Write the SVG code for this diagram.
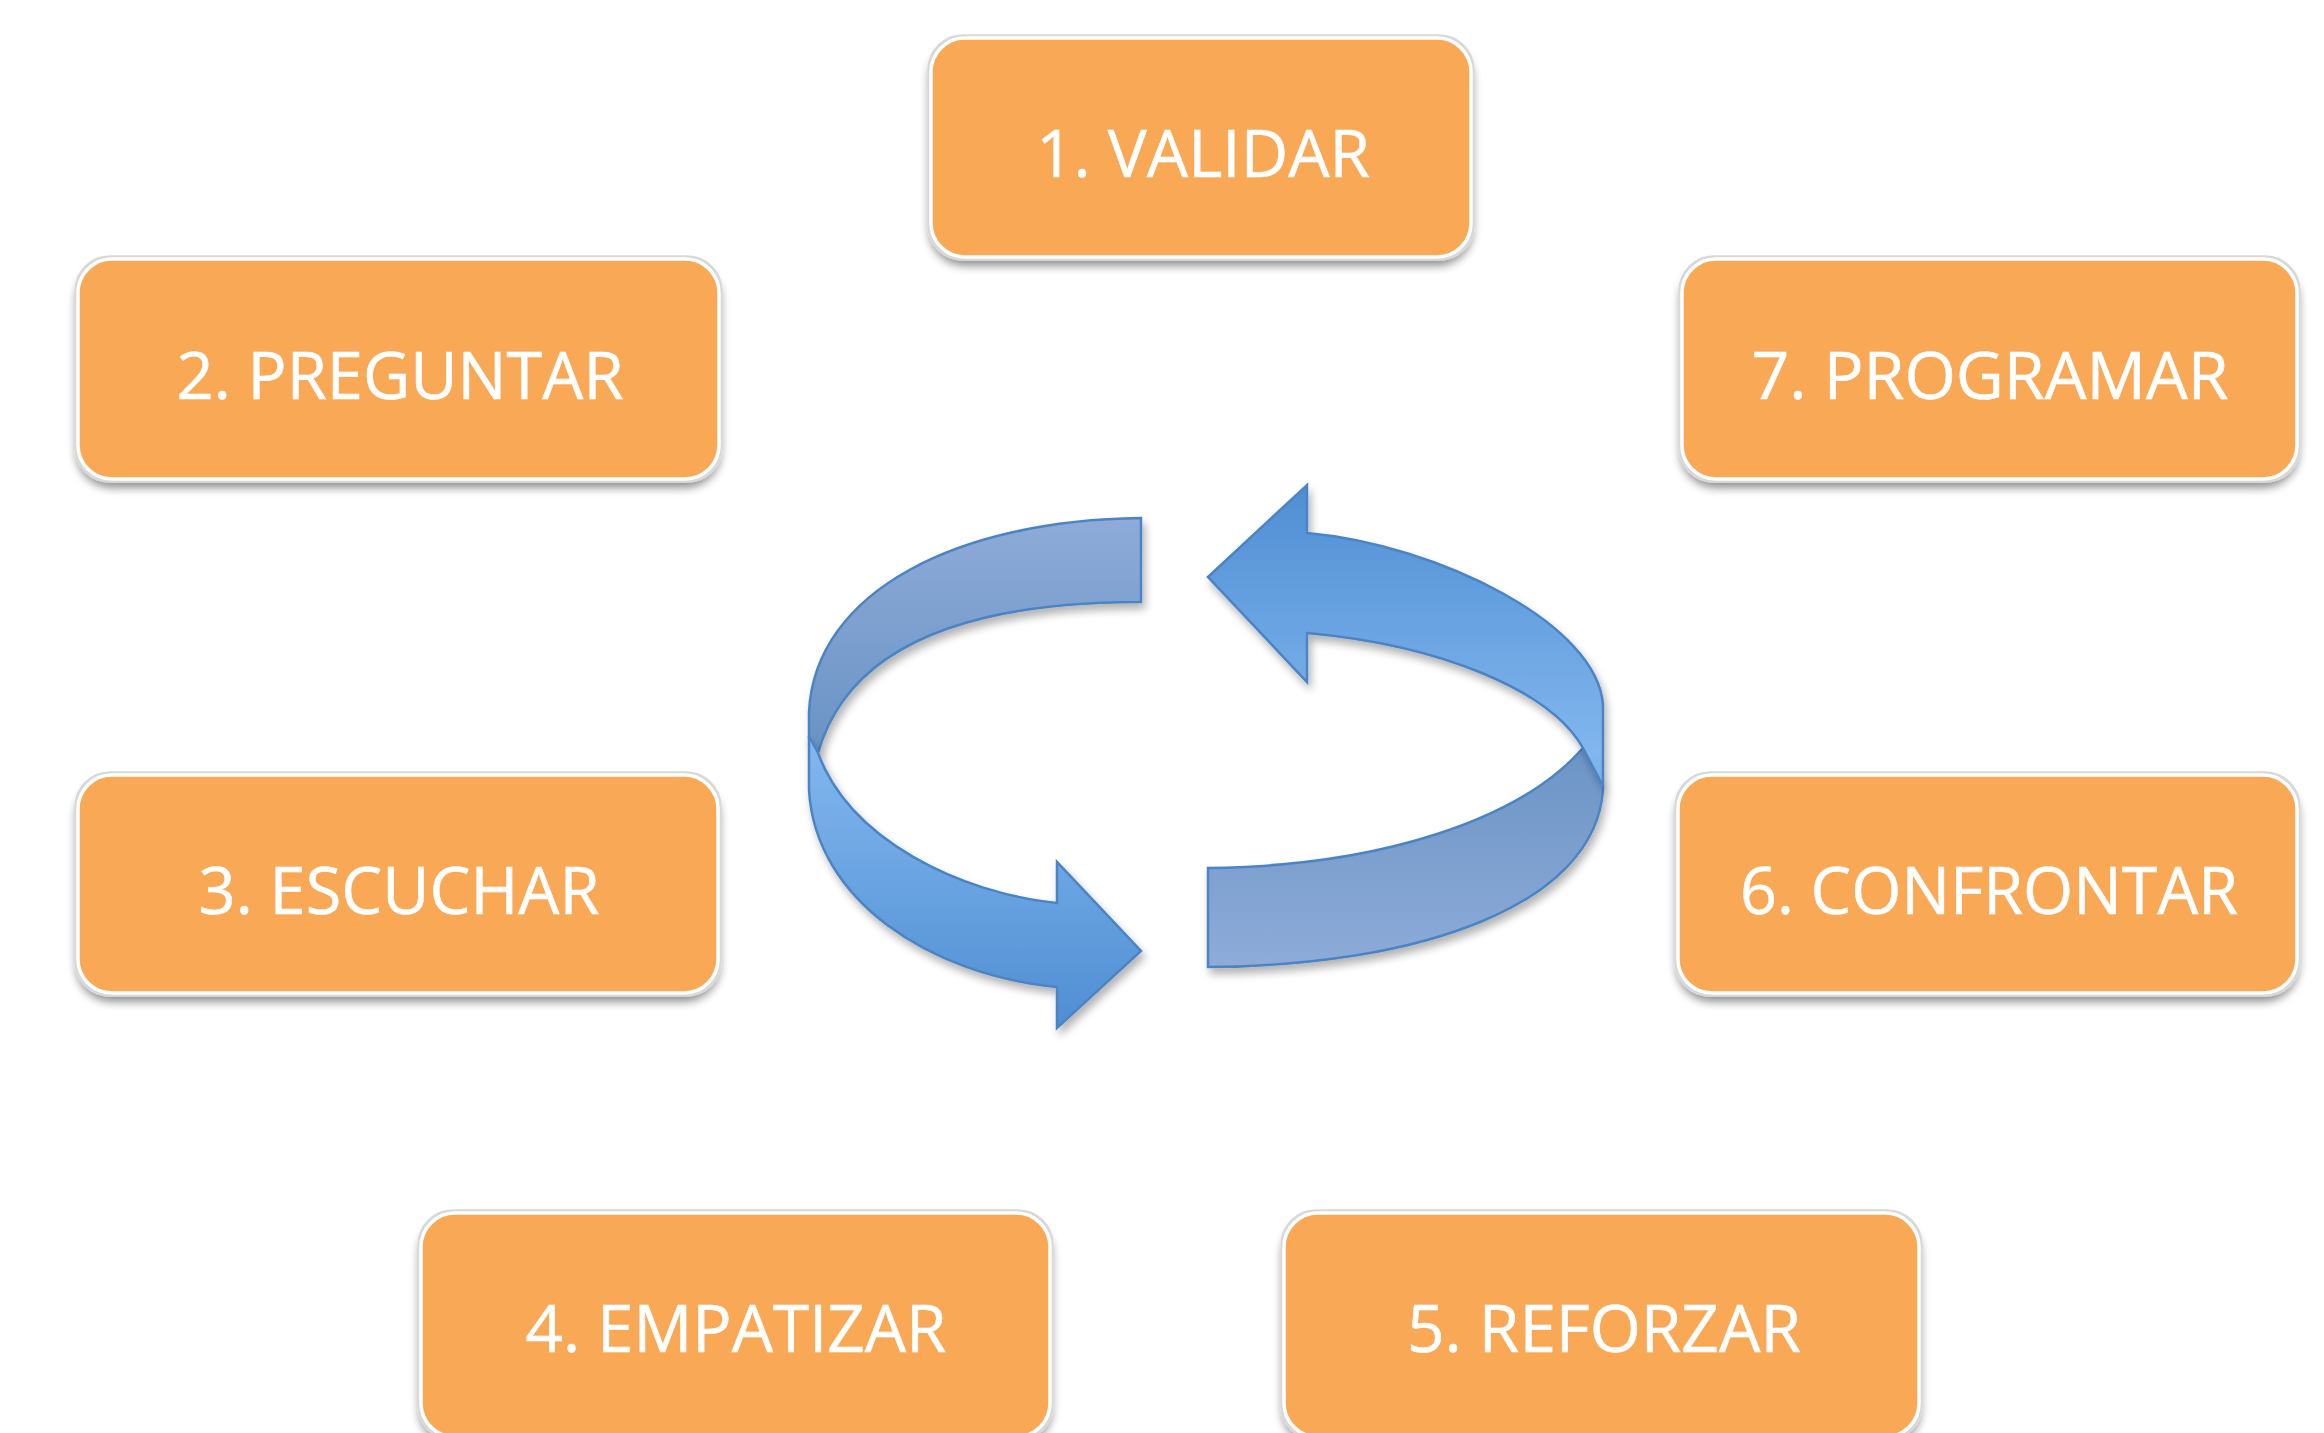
<svg xmlns="http://www.w3.org/2000/svg" width="2324" height="1433" viewBox="0 0 2324 1433">
<defs>
<style>
.box{fill:#f9a857;stroke:#ffffff;stroke-width:3.5;filter:url(#bsh)}
.lbl{font-family:"Open Sans","Liberation Sans",sans-serif;font-size:66px;fill:#ffffff;stroke:#ffffff;stroke-width:0.6;text-anchor:middle}
.front{fill:url(#gf);stroke:#4c84c4;stroke-width:2.5;stroke-linejoin:miter;filter:url(#ash)}
.back{fill:url(#gb);stroke:#4c84c4;stroke-width:2.5;stroke-linejoin:miter;filter:url(#ash)}
</style>
<filter id="bsh" x="-10%" y="-10%" width="120%" height="130%">
<feMorphology in="SourceAlpha" operator="dilate" radius="2" result="d"/>
<feFlood flood-color="#d8d8d8"/>
<feComposite in2="d" operator="in" result="ring"/>
<feGaussianBlur in="SourceAlpha" stdDeviation="5" result="b"/>
<feOffset in="b" dy="7" result="o"/>
<feComponentTransfer in="o" result="s"><feFuncA type="linear" slope="0.45"/></feComponentTransfer>
<feMerge><feMergeNode in="s"/><feMergeNode in="ring"/><feMergeNode in="SourceGraphic"/></feMerge>
</filter>
<filter id="ash" x="-10%" y="-10%" width="130%" height="130%">
<feGaussianBlur in="SourceAlpha" stdDeviation="4" result="b"/>
<feOffset in="b" dx="3" dy="6" result="o"/>
<feComponentTransfer in="o" result="s"><feFuncA type="linear" slope="0.3"/></feComponentTransfer>
<feMerge><feMergeNode in="s"/><feMergeNode in="SourceGraphic"/></feMerge>
</filter>
<linearGradient id="gf" gradientUnits="userSpaceOnUse" x1="0" y1="485" x2="0" y2="1028">
<stop offset="0" stop-color="#4f8ed3"/>
<stop offset="0.49" stop-color="#81b6ee"/>
<stop offset="1" stop-color="#4f8ed3"/>
</linearGradient>
<linearGradient id="gb" gradientUnits="userSpaceOnUse" x1="0" y1="518" x2="0" y2="967">
<stop offset="0" stop-color="#8eabd9"/>
<stop offset="0.5" stop-color="#6a94c5"/>
<stop offset="1" stop-color="#8eabd9"/>
</linearGradient>
</defs>
<rect width="2324" height="1433" fill="#ffffff"/>

<g id="connectors">
<path class="back" d="M1141,518 L1141,602 C980,602 850,640 818,753 L809,738 L809,712 C815,590 960,520 1141,518 Z"/>
<path class="back" d="M1583,748 L1603,785 L1603,790 C1595,905 1420,966 1208,967 L1208,868 C1380,866 1520,820 1583,748 Z"/>
<path class="front" d="M809,736 L818,753 C850,840 960,893 1057,903 L1057,862 L1141,951 L1057,1028 L1057,987 C930,975 815,900 809,790 Z"/>
<path class="front" d="M1208,577 L1307,485 L1307,533 C1440,545 1598,625 1603,705 L1603,786 L1583,748 C1550,690 1440,645 1307,633 L1307,682 Z"/>
</g>

<g id="node1"><rect class="box" x="931" y="38" width="540" height="219" rx="34"/><text class="lbl" x="1203" y="177" textLength="334" lengthAdjust="spacingAndGlyphs">1. VALIDAR</text></g>
<g id="node2"><rect class="box" x="78" y="259" width="641" height="220" rx="34"/><text class="lbl" x="400" y="399" textLength="447" lengthAdjust="spacingAndGlyphs">2. PREGUNTAR</text></g>
<g id="node3"><rect class="box" x="78" y="775" width="640" height="218" rx="34"/><text class="lbl" x="399" y="914" textLength="401" lengthAdjust="spacingAndGlyphs">3. ESCUCHAR</text></g>
<g id="node4"><rect class="box" x="421" y="1213" width="629" height="224" rx="34"/><text class="lbl" x="736" y="1352" textLength="421" lengthAdjust="spacingAndGlyphs">4. EMPATIZAR</text></g>
<g id="node5"><rect class="box" x="1284" y="1213" width="635" height="224" rx="34"/><text class="lbl" x="1604" y="1352" textLength="394" lengthAdjust="spacingAndGlyphs">5. REFORZAR</text></g>
<g id="node6"><rect class="box" x="1678" y="775" width="619" height="218" rx="34"/><text class="lbl" x="1989" y="914" textLength="498" lengthAdjust="spacingAndGlyphs">6. CONFRONTAR</text></g>
<g id="node7"><rect class="box" x="1682" y="259" width="615" height="220" rx="34"/><text class="lbl" x="1990" y="399" textLength="477" lengthAdjust="spacingAndGlyphs">7. PROGRAMAR</text></g>
</svg>
